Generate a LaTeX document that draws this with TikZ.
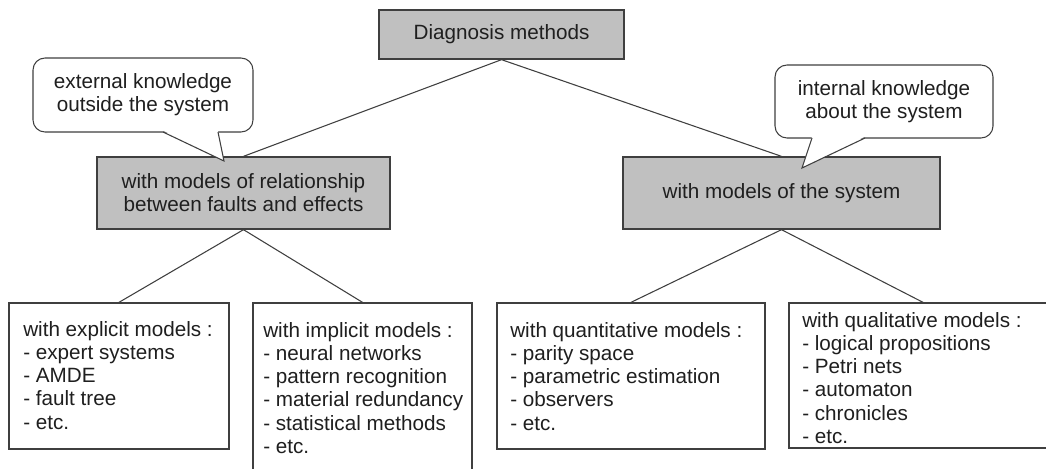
\documentclass[tikz,border=0pt]{standalone}
\usepackage{fontspec}
\setmainfont{Liberation Sans}
\definecolor{edge}{HTML}{3F3F3F}
\definecolor{boxgray}{HTML}{C0C0C0}
\definecolor{txt}{HTML}{1F1F1F}
\begin{document}
\begin{tikzpicture}[x=0.75pt,y=-0.75pt,
  every node/.style={font=\fontsize{15.5pt}{17.4pt}\selectfont, text=txt},
  graybox/.style={draw=edge, fill=boxgray, line width=1pt, align=center, inner sep=0pt},
  listbox/.style={draw=edge, fill=white, line width=1pt, inner sep=0pt},
  listtext/.style={align=left, inner sep=0pt, anchor=north west},
  bubble/.style={draw=edge, fill=white, line width=0.8pt, rounded corners=9pt, align=center, inner sep=0pt},
  pointer/.style={draw=edge, line width=0.8pt, line join=miter},
  link/.style={draw=edge, line width=0.8pt}]
\useasboundingbox (0,0) rectangle (1046,468);
\clip (0,0) rectangle (1046,468);

% hierarchy boxes
\node[graybox, minimum width=183.75pt, minimum height=36.75pt] (root) at (501.5,34.5) {Diagnosis methods};
\node[graybox, minimum width=219.75pt, minimum height=54pt] (rel) at (243.5,193) {with models of relationship\\between faults and effects};
\node[graybox, minimum width=237.75pt, minimum height=54pt] (sys) at (781.5,193) {with models of the system};

\node[listbox, minimum width=165pt, minimum height=109.5pt] (expl) at (119,376) {};
\node[listbox, minimum width=164.25pt, minimum height=133.5pt] (impl) at (362.5,392) {};
\node[listbox, minimum width=201pt, minimum height=109.5pt] (quant) at (631,376) {};
\node[listbox, minimum width=201pt, minimum height=108.75pt] (qual) at (923,375.5) {};

% connectors
\draw[link] (root.south) -- (rel.north);
\draw[link] (root.south) -- (sys.north);
\draw[link] (rel.south) -- (expl.north);
\draw[link] (rel.south) -- (impl.north);
\draw[link] (sys.south) -- (quant.north);
\draw[link] (sys.south) -- (qual.north);

% list contents
\node[listtext] (explText) at (23,321) {with explicit models :\\- expert systems\\- AMDE\\- fault tree\\- etc.};
\node[listtext] (implText) at (263,322) {with implicit models :\\- neural networks\\- pattern recognition\\- material redundancy\\- statistical methods\\- etc.};
\node[listtext] (quantText) at (510,322) {with quantitative models :\\- parity space\\- parametric estimation\\- observers\\- etc.};
\node[listtext] (qualText) at (802,312) {with qualitative models :\\- logical propositions\\- Petri nets\\- automaton\\- chronicles\\- etc.};

% speech bubbles
\node[bubble, minimum width=165pt, minimum height=55.5pt] (ext) at (143,95) {external knowledge\\outside the system};
\coordinate (extTip) at (224,161);
\fill[white] (163,130.6) -- (extTip) -- (218,130.6) -- cycle;
\draw[pointer] (163,132) -- (extTip) -- (218,132);

\node[bubble, minimum width=163.5pt, minimum height=54.75pt] (int) at (884,101.5) {internal knowledge\\about the system};
\coordinate (intTip) at (802,168);
\fill[white] (812,136.6) -- (intTip) -- (865,136.6) -- cycle;
\draw[pointer] (812,138) -- (intTip) -- (865,138);
\end{tikzpicture}
\end{document}
